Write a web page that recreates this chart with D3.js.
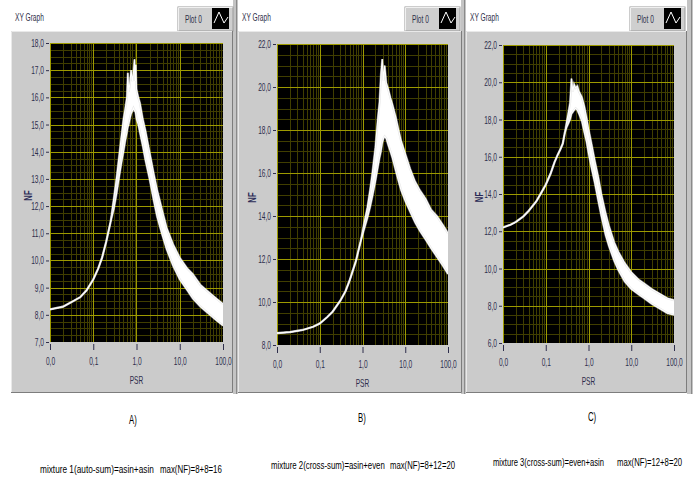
<!DOCTYPE html>
<html><head><meta charset="utf-8">
<script src="https://cdn.jsdelivr.net/npm/d3@7/dist/d3.min.js"></script>
<style>html,body{margin:0;padding:0;background:#fff;overflow:hidden}</style>
</head><body>
<svg id="chart" width="693" height="477"></svg>
<script>
// ---------------- DATA ----------------
const xTickValues = [0.01, 0.1, 1, 10, 100];
const xTickLabels = ["0,0", "0,1", "1,0", "10,0", "100,0"];

const yTicksA = [7, 8, 9, 10, 11, 12, 13, 14, 15, 16, 17, 18];
const yTicksB = [8, 10, 12, 14, 16, 18, 20, 22];
const yTicksC = [6, 8, 10, 12, 14, 16, 18, 20, 22];

const panelLetters = ["A)", "B)", "C)"];
const captionMix = [
  "mixture 1(auto-sum)=asin+asin",
  "mixture 2(cross-sum)=asin+even",
  "mixture 3(cross-sum)=even+asin"
];
const captionMax = [
  "max(NF)=8+8=16",
  "max(NF)=8+12=20",
  "max(NF)=12+8=20"
];

// Panel A: lower / upper envelope of the noisy NF trace
const psrA = [0.01,0.02,0.03,0.05,0.07,0.1,0.13,0.16,0.2,0.25,0.3,0.35,0.4,0.45,0.5,0.55,0.6,0.63,0.66,0.7,0.75,0.8,0.85,0.9,0.93,0.96,1.0,1.1,1.2,1.4,1.6,2.0,2.5,3.0,4.0,5.0,7.0,10,15,20,30,50,70,100];
const loA  = [8.2,8.3,8.45,8.65,8.9,9.3,9.7,10.1,10.7,11.4,11.9,12.5,13.1,13.6,14.0,14.4,14.7,14.9,15.0,15.2,15.4,15.5,15.6,15.5,15.5,15.4,15.2,15.0,14.7,14.2,13.7,13.0,12.2,11.6,10.9,10.4,9.8,9.3,8.9,8.6,8.3,8.0,7.8,7.6];
const hiA  = [8.2,8.3,8.45,8.65,8.9,9.3,9.7,10.1,10.7,11.4,12.3,13.1,13.9,14.6,15.2,15.6,16.0,16.9,16.2,16.5,17.0,16.6,16.9,17.4,16.6,17.2,16.3,16.0,15.8,15.2,14.8,14.0,13.2,12.6,11.8,11.2,10.6,10.1,9.7,9.5,9.1,8.8,8.6,8.4];

// Panel B
const psrB = [0.01,0.02,0.04,0.07,0.1,0.15,0.2,0.3,0.4,0.5,0.7,0.9,1.1,1.3,1.5,1.7,2.0,2.3,2.5,2.7,2.9,3.1,3.3,3.6,4.0,4.5,5,6,7,8,10,13,17,22,30,40,55,75,100];
const loB  = [8.55,8.6,8.7,8.85,9.0,9.3,9.55,10.05,10.5,11.0,11.9,12.8,13.4,13.9,14.4,14.9,15.6,16.3,16.7,17.0,17.4,17.6,17.7,17.6,17.3,17.0,16.7,16.1,15.6,15.2,14.7,14.2,13.7,13.3,12.9,12.5,12.1,11.7,11.3];
const hiB  = [8.55,8.6,8.7,8.85,9.0,9.3,9.55,10.05,10.5,11.0,11.9,12.8,13.7,14.4,15.2,16.0,17.2,18.6,19.3,20.6,21.3,20.3,21.0,20.2,19.9,19.5,19.2,18.6,18.0,17.5,16.9,16.2,15.6,15.2,14.8,14.3,14.0,13.6,13.2];

// Panel C
const psrC = [0.01,0.015,0.02,0.03,0.04,0.06,0.08,0.1,0.13,0.16,0.19,0.22,0.25,0.28,0.31,0.34,0.37,0.4,0.43,0.46,0.5,0.55,0.6,0.7,0.8,0.9,1.0,1.2,1.4,1.7,2.0,2.5,3.0,4.0,5.0,7.0,10,15,20,30,50,70,100];
const loC  = [12.2,12.35,12.5,12.8,13.1,13.6,14.1,14.5,15.1,15.7,16.1,16.4,16.7,17.3,17.6,17.8,18.0,18.3,18.4,18.5,18.6,18.5,18.3,17.9,17.3,16.8,16.2,15.3,14.6,13.6,12.8,11.8,11.2,10.4,9.9,9.3,8.9,8.6,8.4,8.1,7.8,7.6,7.5];
const hiC  = [12.2,12.35,12.5,12.8,13.1,13.6,14.1,14.5,15.1,15.7,16.1,16.4,16.7,17.3,17.9,18.4,18.9,20.2,19.5,19.9,19.7,19.8,19.5,19.2,18.7,18.1,17.5,16.6,15.8,14.9,14.0,13.0,12.3,11.4,10.9,10.3,9.8,9.4,9.2,8.9,8.6,8.4,8.3];

// ---------------- LAYOUT ----------------
const FONT = "'Liberation Sans', Arial, sans-serif";
const panels = [
  {x0: 11,  x1: 233, plot: {l: 50,  r: 223, t: 43, b: 342}, yDomain: [7, 18], yTicks: yTicksA, yMinor: 0.25,
   psr: psrA, lo: loA, hi: hiA, legendX: 178, nfX: 28,  letter: [133, 424],
   capY: 473, mix: [40, 114], max: [160, 62]},
  {x0: 238, x1: 462, plot: {l: 277, r: 448, t: 44, b: 345}, yDomain: [8, 22], yTicks: yTicksB, yMinor: 0.5,
   psr: psrB, lo: loB, hi: hiB, legendX: 405, nfX: 252, letter: [362, 422],
   capY: 469, mix: [271, 114], max: [390, 65]},
  {x0: 466, x1: 687, plot: {l: 503, r: 674, t: 45, b: 343}, yDomain: [6, 22], yTicks: yTicksC, yMinor: 0.5,
   psr: psrC, lo: loC, hi: hiC, legendX: 630, nfX: 479, letter: [592, 421],
   capY: 466, mix: [493, 111], max: [617, 65]}
];

const svg = d3.select("#chart");
svg.append("rect").attr("width", 693).attr("height", 477).attr("fill", "#fff");

function txt(sel, x, y, s, o = {}) {
  const rot = o.rotate ? ` rotate(${o.rotate})` : "";
  return sel.append("text")
    .attr("transform", `translate(${x},${y})${rot} scale(${o.sx ?? 0.6},1)`)
    .attr("text-anchor", o.anchor || "start")
    .attr("font-family", FONT)
    .attr("font-size", o.size || 11)
    .attr("font-weight", o.weight || "normal")
    .attr("fill", o.fill || "#222")
    .text(s);
}
// text squeezed horizontally to a target width
function fitTxt(sel, x, y, s, width, o = {}) {
  const t = txt(sel, x, y, s, Object.assign({sx: 1}, o));
  const natural = t.node().getComputedTextLength();
  t.attr("transform", `translate(${x},${y}) scale(${width / natural},1)`);
  return t;
}

// separator strips between the front-panel windows
[[233, 238], [461, 466], [687, 693]].forEach(([a, b]) => {
  svg.append("rect").attr("x", a).attr("y", 0).attr("width", b - a).attr("height", 394).attr("fill", "#c4c4c4");
  svg.append("line").attr("x1", b - 1.5).attr("x2", b - 1.5).attr("y1", 0).attr("y2", 394).attr("stroke", "#8a8a8a");
});

const tickColor = "#2e2e4c";

panels.forEach((p, i) => {
  const g = svg.append("g");
  // title
  txt(g, p.x0 + 4, 21, "XY Graph", {fill: "#30304a"});
  // legend box
  const lg = g.append("g").attr("transform", `translate(${p.legendX},7)`);
  lg.append("rect").attr("width", 55).attr("height", 24).attr("fill", "#cfcfcf").attr("stroke", "#9a9a9a");
  lg.append("path").attr("d", "M0.5,23.5V0.5H54.5").attr("fill", "none").attr("stroke", "#f0f0f0");
  txt(lg, 7, 15.5, "Plot 0", {fill: "#30304a"});
  lg.append("rect").attr("x", 34).attr("y", 1).attr("width", 17).attr("height", 21).attr("fill", "#000");
  lg.append("polyline").attr("points", "36,16 41,5 46,16 50,10")
    .attr("fill", "none").attr("stroke", "#fff").attr("stroke-width", 1);

  // body
  g.append("rect").attr("x", p.x0).attr("y", 31).attr("width", p.x1 - p.x0).attr("height", 362)
    .attr("fill", "#cbcbcb");
  g.append("path").attr("d", `M${p.x0 + 0.5},393V31.5H${p.x1}`).attr("fill", "none").attr("stroke", "#e9e9e9");
  g.append("path").attr("d", `M${p.x0},392.5H${p.x1 - 0.5}V31`).attr("fill", "none").attr("stroke", "#7d7d7d");

  const {l, r, t, b} = p.plot;
  const x = d3.scaleLog().domain([0.01, 100]).range([l, r]);
  const y = d3.scaleLinear().domain(p.yDomain).range([b, t]);

  g.append("rect").attr("x", l).attr("y", t).attr("width", r - l).attr("height", b - t).attr("fill", "#000");
  const clipId = "clip" + i;
  g.append("clipPath").attr("id", clipId).append("rect")
    .attr("x", l).attr("y", t).attr("width", r - l).attr("height", b - t);
  const pg = g.append("g").attr("clip-path", `url(#${clipId})`);

  // minor grid
  const minorX = [];
  for (let d = 0.01; d < 99; d *= 10) for (let k = 2; k <= 9; k++) minorX.push(d * k);
  const minorY = d3.range(p.yDomain[0], p.yDomain[1] + 1e-9, p.yMinor)
    .filter(v => !p.yTicks.some(tk => Math.abs(tk - v) < 1e-9));
  const minorCol = "#403e00";
  pg.selectAll(".mx").data(minorX).join("line")
    .attr("x1", d => Math.round(x(d)) + 0.5).attr("x2", d => Math.round(x(d)) + 0.5)
    .attr("y1", t).attr("y2", b).attr("stroke", minorCol).attr("stroke-width", 1);
  pg.selectAll(".my").data(minorY).join("line")
    .attr("y1", d => Math.round(y(d)) + 0.5).attr("y2", d => Math.round(y(d)) + 0.5)
    .attr("x1", l).attr("x2", r).attr("stroke", minorCol).attr("stroke-width", 1);
  // major grid
  pg.selectAll(".Mx").data(xTickValues).join("line")
    .attr("x1", d => Math.round(x(d)) + 0.5).attr("x2", d => Math.round(x(d)) + 0.5)
    .attr("y1", t).attr("y2", b).attr("stroke", "#9d9a00").attr("stroke-width", 1);
  pg.selectAll(".My").data(p.yTicks).join("line")
    .attr("y1", d => Math.round(y(d)) + 0.5).attr("y2", d => Math.round(y(d)) + 0.5)
    .attr("x1", l).attr("x2", r).attr("stroke", "#9d9a00").attr("stroke-width", 1);

  // trace: noisy band (envelope) + feathered edge lines
  const pts = p.psr.map((v, k) => ({psr: v, lo: p.lo[k], hi: p.hi[k]}));
  pg.append("path").datum(pts)
    .attr("d", d3.area().x(d => x(d.psr)).y0(d => y(d.lo)).y1(d => y(d.hi)))
    .attr("fill", "#fff");
  ["hi", "lo"].forEach(key => {
    pg.append("path").datum(pts)
      .attr("d", d3.line().x(d => x(d.psr)).y(d => y(d[key])))
      .attr("fill", "none").attr("stroke", "#d8d8d8").attr("stroke-width", 2.2).attr("stroke-opacity", 0.6);
    pg.append("path").datum(pts)
      .attr("d", d3.line().x(d => x(d.psr)).y(d => y(d[key])))
      .attr("fill", "none").attr("stroke", "#fff").attr("stroke-width", 1.1);
  });

  // axes
  const ya = g.append("g").attr("transform", `translate(${l - 1},0)`)
    .call(d3.axisLeft(y).tickValues(p.yTicks).tickSize(3).tickPadding(2)
      .tickFormat(d => d.toFixed(1).replace(".", ",")));
  ya.select(".domain").remove();
  ya.selectAll(".tick line").attr("stroke", tickColor);
  ya.selectAll(".tick text").attr("font-family", FONT).attr("font-size", 11).attr("fill", tickColor)
    .attr("x", -5 / 0.6).attr("transform", "scale(0.6,1)");

  const xa = g.append("g").attr("transform", `translate(0,${b + 2})`)
    .call(d3.axisBottom(x).tickValues(xTickValues).tickSize(6).tickPadding(7)
      .tickFormat((d, k) => xTickLabels[k]));
  xa.select(".domain").remove();
  xa.selectAll(".tick line").attr("stroke", tickColor);
  xa.selectAll(".tick text").attr("font-family", FONT).attr("font-size", 11).attr("fill", tickColor)
    .attr("transform", "scale(0.6,1)");

  // axis titles
  txt(g, (l + r) / 2, b + 42, "PSR", {anchor: "middle", fill: tickColor});
  txt(g, p.nfX + 4, (t + b) / 2 + 3, "NF", {anchor: "middle", rotate: -90, fill: "#2a2a55", weight: "bold", sx: 0.7});

  // captions
  txt(svg, p.letter[0], p.letter[1], panelLetters[i], {anchor: "middle", fill: "#000", size: 12, sx: 0.65});
  fitTxt(svg, p.mix[0], p.capY, captionMix[i], p.mix[1], {fill: "#000"});
  fitTxt(svg, p.max[0], p.capY, captionMax[i], p.max[1], {fill: "#000"});
});
</script>
</body></html>
